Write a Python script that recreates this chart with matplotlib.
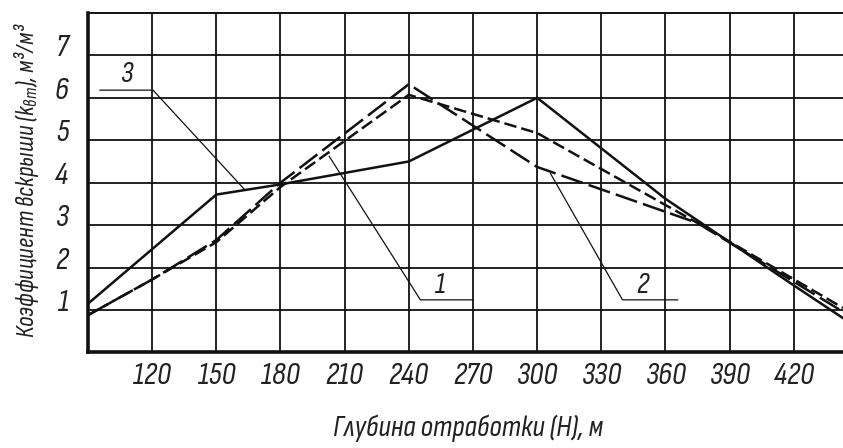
"""
Коэффициент вскрыши vs глубина отработки
"""

import matplotlib.pyplot as plt
from matplotlib import transforms

# curve 1 (short dashes), curve 2 (long dashes), curve 3 (solid)
x1 = [90, 120, 150, 180, 240, 300, 375, 443]
y1 = [0.88, 1.72, 2.60, 3.90, 6.07, 5.17, 3.05, 1.05]

x2 = [90, 120, 150, 180, 240, 300, 375, 443]
y2 = [0.88, 1.72, 2.65, 4.00, 6.32, 4.37, 3.05, 0.96]

x3 = [90, 150, 180, 240, 300, 360, 420, 443]
y3 = [1.15, 3.72, 3.96, 4.50, 6.00, 3.62, 1.58, 0.81]

xticks = [120, 150, 180, 210, 240, 270, 300, 330, 360, 390, 420]
yticks = [1, 2, 3, 4, 5, 6, 7]

FONT = ['Sofia Sans Condensed', 'Roboto Condensed', 'DejaVu Sans']
plt.rcParams['font.family'] = FONT
plt.rcParams['font.style'] = 'italic'
plt.rcParams['font.weight'] = 'light'
plt.rcParams['mathtext.fontset'] = 'custom'
plt.rcParams['mathtext.rm'] = 'Sofia Sans Condensed:italic:light'
plt.rcParams['mathtext.it'] = 'Sofia Sans Condensed:italic:light'

ink = '#111111'
txt = '#222222'

fig = plt.figure(figsize=(8.43, 4.48), dpi=100)
ax = fig.add_axes([0.1044, 0.2132, 0.8956, 0.758])

ax.plot(x3, y3, color=ink, lw=1.8, solid_joinstyle='miter')
ax.plot(x1, y1, color=ink, lw=1.8, dashes=(5, 2))
ax.plot(x2, y2, color=ink, lw=1.8, dashes=(9, 2.5))

ax.set_xlim(90, 443)
ax.set_ylim(0, 8)
ax.set_xticks(xticks)
ax.set_yticks(yticks)
ax.grid(True, color=ink, lw=1.3)
ax.set_axisbelow(True)
ax.tick_params(length=0, labelsize=23, labelcolor=txt)
ax.tick_params(axis='x', pad=7)
ax.tick_params(axis='y', pad=14)
# y labels sit a bit above their grid lines
shift = transforms.ScaledTranslation(0, 10 / 100, fig.dpi_scale_trans)
for lab in ax.get_yticklabels():
    lab.set_transform(lab.get_transform() + shift)

ax.spines['left'].set_linewidth(2.6)
ax.spines['bottom'].set_linewidth(2.6)
ax.spines['top'].set_linewidth(1.4)
ax.spines['right'].set_visible(False)
for s in ax.spines.values():
    s.set_color(ink)

# leader lines with curve numbers
lead = dict(color=ink, lw=0.9)
ax.plot([95.6, 120.4, 163], [6.18, 6.18, 3.85], **lead)
ax.text(108, 6.22, '3', fontsize=22, color=txt, ha='center', va='bottom')
ax.plot([202.8, 245.4, 270.2], [4.62, 1.24, 1.24], **lead)
ax.text(254.7, 1.27, '1', fontsize=22, color=txt, ha='center', va='bottom')
ax.plot([306.2, 339.9, 365.7], [4.22, 1.24, 1.24], **lead)
ax.text(349.3, 1.27, '2', fontsize=22, color=txt, ha='center', va='bottom')

fig.text(468 / 843, 1 - 428 / 448, 'Глубина отработки (Н), м', fontsize=22,
         color=txt, ha='center', va='center')
fig.text(27 / 843, 1 - 180 / 448, 'Коэффициент вскрыши (k$_{вт}$), м³/м³',
         fontsize=18.5, color=txt, ha='center', va='center', rotation=90)

plt.savefig('out.png', dpi=100)
